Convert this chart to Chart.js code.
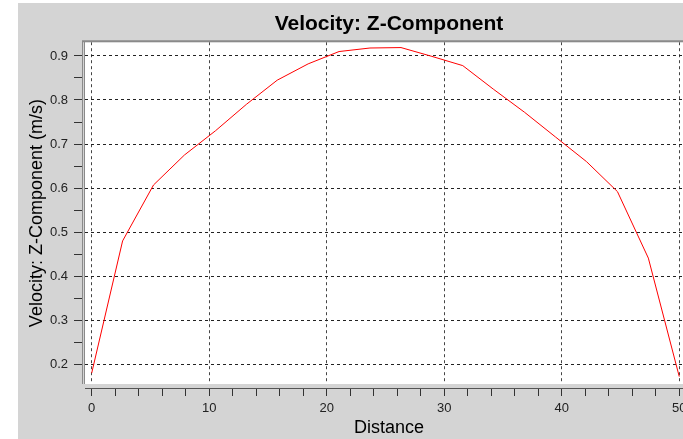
<!DOCTYPE html>
<html>
<head>
<meta charset="utf-8">
<script src="https://cdn.jsdelivr.net/npm/chart.js@4/dist/chart.umd.min.js"></script>
<style>
  html, body { margin: 0; padding: 0; background: #fff; overflow: hidden; }
  #wrap { width: 683px; height: 439px; overflow: hidden; position: relative; }
  #velocityChart { position: absolute; left: 0; top: 0; }
</style>
</head>
<body>
<div id="wrap"><canvas id="velocityChart" width="720" height="439"></canvas></div>
<script>
// data
var distance = [0, 2.63, 5.26, 7.89, 10.53, 13.16, 15.79, 18.42, 21.05, 23.68, 26.32, 28.95, 31.58, 34.21, 36.84, 39.47, 42.11, 44.74, 47.37, 50];
var velocityZ = [0.180, 0.480, 0.607, 0.675, 0.730, 0.790, 0.845, 0.882, 0.910, 0.918, 0.919, 0.899, 0.878, 0.824, 0.772, 0.716, 0.660, 0.592, 0.441, 0.172];

// ticks (minor + labelled)
var xTicks = [0, 2, 4, 6, 8, 10, 12, 14, 16, 18, 20, 22, 24, 26, 28, 30, 32, 34, 36, 38, 40, 42, 44, 46, 48, 50];
var xLabels = [0, 10, 20, 30, 40, 50];
var yTicks = [0.2, 0.25, 0.3, 0.35, 0.4, 0.45, 0.5, 0.55, 0.6, 0.65, 0.7, 0.75, 0.8, 0.85, 0.9];
var yLabels = [0.2, 0.3, 0.4, 0.5, 0.6, 0.7, 0.8, 0.9];

var chartTitle = 'Velocity: Z-Component';
var xTitle = 'Distance';
var yTitle = 'Velocity: Z-Component (m/s)';

var points = [];
for (var i = 0; i < distance.length; i++) {
  points.push({x: distance[i], y: velocityZ[i]});
}

function isLabel(list, v) {
  for (var k = 0; k < list.length; k++) {
    if (Math.abs(list[k] - v) < 1e-6) return true;
  }
  return false;
}

var fontFam = '"Liberation Sans", Arial, sans-serif';

// gray panel, white plot box and the frame lines
var framePlugin = {
  id: 'frame',
  beforeDraw: function (chart) {
    var c = chart.ctx, a = chart.chartArea;
    c.save();
    c.fillStyle = '#ffffff';
    c.fillRect(0, 0, chart.width, chart.height);
    c.fillStyle = '#d4d4d4';
    c.fillRect(18, 3, chart.width - 18, chart.height - 3);
    c.fillStyle = '#ffffff';
    c.fillRect(a.left, a.top, a.right - a.left, a.bottom - a.top);
    c.restore();
  },
  afterDraw: function (chart) {
    var c = chart.ctx, a = chart.chartArea;
    c.save();
    c.fillStyle = '#d4d4d4';
    c.fillRect(a.left - 3, a.bottom, a.right - a.left + 3, 4);
    c.fillRect(a.left - 3, a.top, 3, a.bottom - a.top);
    c.strokeStyle = '#555';
    c.lineWidth = 1;
    c.beginPath();
    c.moveTo(a.left, a.bottom + 4.5);
    c.lineTo(a.right, a.bottom + 4.5);
    c.stroke();
    c.strokeStyle = '#8a8a8a';
    c.beginPath();
    c.moveTo(a.left - 2.5, a.top - 1);
    c.lineTo(a.left - 2.5, a.bottom);
    c.moveTo(a.left - 0.5, a.top - 1);
    c.lineTo(a.left - 0.5, a.bottom);
    c.stroke();
    c.lineWidth = 2;
    c.beginPath();
    c.moveTo(a.left - 3, a.top - 1);
    c.lineTo(a.right, a.top - 1);
    c.stroke();
    c.restore();
  }
};

var ctx = document.getElementById('velocityChart');
var velocityChart = new Chart(ctx, {
  type: 'line',
  data: {
    datasets: [{
      data: points,
      borderColor: '#ff0000',
      borderWidth: 1,
      pointRadius: 0,
      tension: 0,
      fill: false
    }]
  },
  options: {
    responsive: false,
    animation: false,
    devicePixelRatio: 1,
    layout: { padding: { left: 0, right: 27, top: 0, bottom: 0 } },
    plugins: {
      legend: { display: false },
      tooltip: { enabled: false },
      title: {
        display: true,
        text: chartTitle,
        fullSize: false,
        color: '#000',
        font: { family: fontFam, size: 21, weight: 'bold' },
        padding: { top: 12, bottom: 5 }
      }
    },
    scales: {
      x: {
        type: 'linear',
        min: -0.57,
        max: 51.17,
        afterBuildTicks: function (scale) {
          scale.ticks = xTicks.map(function (v) { return {value: v}; });
        },
        afterFit: function (scale) { scale.height = 55; },
        ticks: {
          autoSkip: false,
          maxRotation: 0,
          padding: 5,
          color: '#222',
          font: { family: fontFam, size: 13 },
          callback: function (v) { return isLabel(xLabels, v) ? String(v) : ''; }
        },
        grid: {
          drawOnChartArea: true,
          drawTicks: true,
          tickLength: 12,
          tickColor: '#333',
          color: function (c) { return isLabel(xLabels, c.tick.value) ? '#444' : 'rgba(0,0,0,0)'; },
          lineWidth: 1
        },
        border: { display: false, dash: [3, 3] },
        title: {
          display: true,
          text: xTitle,
          color: '#000',
          font: { family: fontFam, size: 18 },
          padding: { top: 0, bottom: 0 }
        }
      },
      y: {
        type: 'linear',
        min: 0.1552,
        max: 0.9312,
        afterBuildTicks: function (scale) {
          scale.ticks = yTicks.map(function (v) { return {value: v}; });
        },
        afterFit: function (scale) { scale.width = 85; },
        ticks: {
          autoSkip: false,
          padding: 6,
          color: '#222',
          font: { family: fontFam, size: 13 },
          callback: function (v) { return isLabel(yLabels, v) ? v.toFixed(1) : ''; }
        },
        grid: {
          drawOnChartArea: true,
          drawTicks: true,
          tickLength: 11,
          tickColor: '#333',
          color: function (c) { return isLabel(yLabels, c.tick.value) ? '#222' : 'rgba(0,0,0,0)'; },
          lineWidth: 1
        },
        border: { display: false, dash: [3, 3] },
        title: {
          display: true,
          text: yTitle,
          color: '#000',
          font: { family: fontFam, size: 18 },
          padding: { top: 26, bottom: 0 }
        }
      }
    }
  },
  plugins: [framePlugin]
});
</script>
</body>
</html>
